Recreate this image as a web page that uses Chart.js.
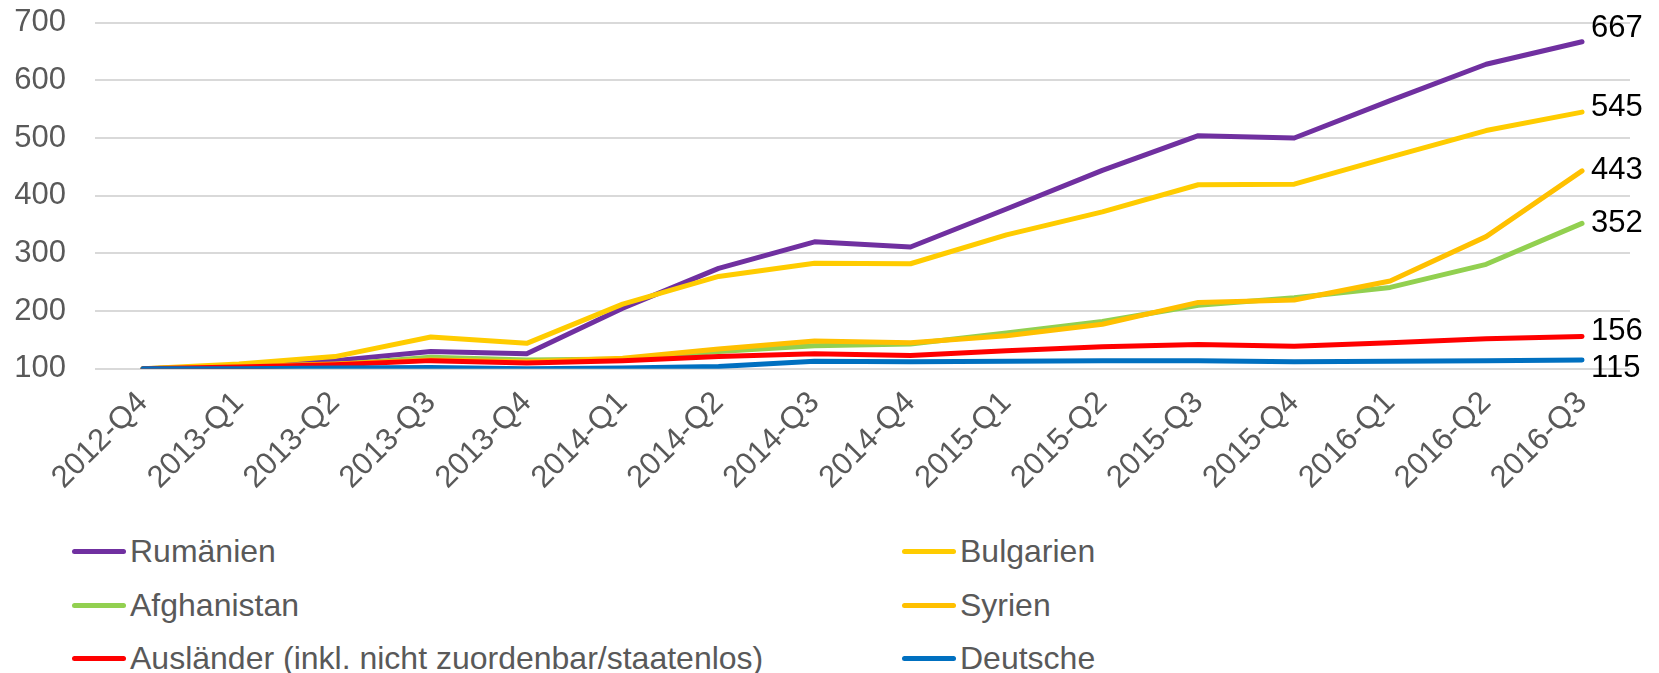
<!DOCTYPE html>
<html lang="de">
<head>
<meta charset="utf-8">
<title>Index</title>
<script src="https://cdn.jsdelivr.net/npm/chart.js@4/dist/chart.umd.min.js"></script>
<style>
    body {
        margin: 0;
        background: #fff;
        overflow: hidden;
        font-family: "Liberation Sans", Arial, sans-serif;
    }
    #wrap {
        position: relative;
        width: 1659px;
        height: 673px;
    }
    #chartBox {
        position: absolute;
        left: 0;
        top: 0;
        width: 1659px;
        height: 500px;
    }
    #legend {
        position: absolute;
        left: 0;
        top: 525px;
        width: 1659px;
        display: grid;
        grid-template-columns: 830px 829px;
        grid-auto-rows: 53.5px;
    }
    .item {
        display: flex;
        align-items: center;
        padding-left: 72px;
        font-size: 32px;
        color: #595959;
        white-space: nowrap;
    }
    .swatch {
        width: 54px;
        height: 5px;
        border-radius: 3px;
        margin-right: 4px;
    }
</style>
</head>
<body>
<div id="wrap">
    <div id="chartBox"><canvas id="indexChart"></canvas></div>
    <div id="legend"></div>
</div>

<script>
const quarters = ["2012-Q4", "2013-Q1", "2013-Q2", "2013-Q3", "2013-Q4", "2014-Q1", "2014-Q2", "2014-Q3",
    "2014-Q4", "2015-Q1", "2015-Q2", "2015-Q3", "2015-Q4", "2016-Q1", "2016-Q2", "2016-Q3"];

const rumaenien   = [100, 105, 114, 130, 126, 205, 274, 320, 311, 377, 444, 504, 500, 565, 628, 667];
const bulgarien   = [100, 108, 121, 155, 144, 212, 260, 283, 282, 332, 372, 419, 420, 467, 513, 545];
const afghanistan = [100, 103, 107, 120, 115, 117, 130, 140, 143, 162, 182, 210, 223, 241, 281, 352];
const syrien      = [100, 104, 108, 115, 112, 118, 134, 148, 145, 157, 177, 215, 219, 252, 329, 443];
const auslaender  = [100, 103, 107, 114, 110, 114, 121, 126, 123, 131, 138, 142, 139, 145, 152, 156];
const deutsche    = [100, 100, 101, 102, 100, 101, 104, 113, 112, 113, 114, 114, 112, 113, 114, 115];

const yMin = 100;
const yMax = 700;
const yStep = 100;

const names = ["Rumänien", "Bulgarien", "Afghanistan", "Syrien",
    "Ausländer (inkl. nicht zuordenbar/staatenlos)", "Deutsche"];
const colors = ["#7030A0", "#FFCC00", "#92D050", "#FFC000", "#FF0000", "#0070C0"];
const series = [rumaenien, bulgarien, afghanistan, syrien, auslaender, deutsche];

const FONT = '"Liberation Sans", Arial, sans-serif';

// end-of-line value labels, small vertical nudges like in the original
const labelNudge = [-13, -5, 0, 0, -5, 8];

const endLabels = {
    id: "endLabels",
    afterDatasetsDraw(chart) {
        const ctx = chart.ctx;
        ctx.save();
        ctx.font = "31px " + FONT;
        ctx.fillStyle = "#000";
        ctx.textAlign = "left";
        ctx.textBaseline = "middle";
        chart.data.datasets.forEach(function (ds, i) {
            const meta = chart.getDatasetMeta(i);
            const pt = meta.data[meta.data.length - 1];
            ctx.fillText(String(ds.data[ds.data.length - 1]), pt.x + 9, pt.y + labelNudge[i]);
        });
        ctx.restore();
    }
};

const chart = new Chart(document.getElementById("indexChart"), {
    type: "line",
    data: {
        labels: quarters,
        datasets: series.map(function (d, i) {
            return {
                label: names[i],
                data: d,
                borderColor: colors[i],
                backgroundColor: colors[i],
                borderWidth: 5,
                pointRadius: 0,
                tension: 0,
                borderCapStyle: "round",
                borderJoinStyle: "round",
                order: series.length - 1 - i
            };
        })
    },
    options: {
        responsive: true,
        maintainAspectRatio: false,
        animation: false,
        layout: { padding: { top: 22.7, right: 29, left: 0, bottom: 0 } },
        plugins: {
            legend: { display: false },
            tooltip: { enabled: false }
        },
        scales: {
            x: {
                offset: true,
                grid: { display: false },
                border: { display: false },
                ticks: {
                    autoSkip: false,
                    minRotation: 45,
                    maxRotation: 45,
                    padding: 8,
                    color: "#595959",
                    font: { family: FONT, size: 31 }
                },
                afterFit(scale) { scale.height = 131.3; }
            },
            y: {
                min: yMin,
                max: yMax,
                grid: { color: "#D9D9D9", lineWidth: 2, drawTicks: false },
                border: { display: false },
                ticks: {
                    stepSize: yStep,
                    padding: 29,
                    color: "#595959",
                    font: { family: FONT, size: 31 }
                },
                afterFit(scale) {
                    scale.width = 95;
                    scale.paddingTop = 0;
                    scale.paddingBottom = 0;
                }
            }
        }
    },
    plugins: [endLabels]
});

/* legend, two columns like the original */
const legendBox = document.getElementById("legend");
chart.data.datasets.forEach(function (ds) {
    const item = document.createElement("div");
    item.className = "item";
    const sw = document.createElement("span");
    sw.className = "swatch";
    sw.style.background = ds.borderColor;
    const txt = document.createElement("span");
    txt.textContent = ds.label;
    item.appendChild(sw);
    item.appendChild(txt);
    legendBox.appendChild(item);
});
</script>
</body>
</html>
